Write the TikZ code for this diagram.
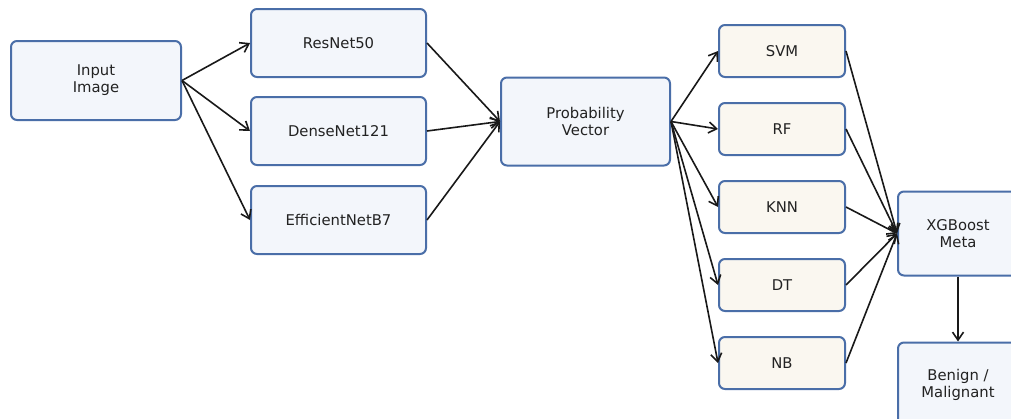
\documentclass[tikz,border=0pt]{standalone}
\usepackage{fontspec}
\setmainfont{DejaVu Sans}
\usetikzlibrary{arrows.meta}
\definecolor{bord}{HTML}{4A6EA8}
\definecolor{bfill}{HTML}{F3F6FB}
\definecolor{cfill}{HTML}{FAF7F0}
\definecolor{txt}{HTML}{222222}
\tikzset{
  box/.style={draw=bord, line width=2pt, rounded corners=6pt, fill=bfill, text=txt,
    font=\fontsize{14.8}{17}\selectfont, align=center, inner sep=0pt},
  clf/.style={box, fill=cfill, minimum width=126pt, minimum height=52pt},
  bb/.style={box, minimum width=175pt, minimum height=68pt},
  arr/.style={-{Straight Barb[length=8pt,width=11pt]}, line width=1.6pt, black!90},
}
\begin{document}
\begin{tikzpicture}[x=1pt,y=-1pt]
\clip (0,0) rectangle (1011,418);
\useasboundingbox (0,0) rectangle (1011,418);
\fill[white] (0,0) rectangle (1011,418);
\node[box, minimum width=170pt, minimum height=79pt] (inp) at (96,80.5) {Input\\Image};
\node[bb] (res) at (338.5,43) {ResNet50};
\node[bb] (den) at (338.5,131) {DenseNet121};
\node[bb] (eff) at (338.5,220) {EfficientNetB7};
\node[box, minimum width=169pt, minimum height=88pt] (prob) at (585.5,121.5) {Probability\\Vector};
\node[clf] (svm) at (782,51) {SVM};
\node[clf] (rf) at (782,129) {RF};
\node[clf] (knn) at (782,207) {KNN};
\node[clf] (dt) at (782,285) {DT};
\node[clf] (nb) at (782,363) {NB};
\node[box, minimum width=120pt, minimum height=84pt] (xgb) at (958,233.5) {XGBoost\\Meta};
\node[box, minimum width=120pt, minimum height=84pt] (out) at (958,384.5) {Benign /\\Malignant};
\foreach \t in {res,den,eff}{
  \draw[arr] (inp.east) -- (\t.west);
  \draw[arr] (\t.east) -- (prob.west);
}
\foreach \t in {svm,rf,knn,dt,nb}{
  \draw[arr] (prob.east) -- (\t.west);
  \draw[arr] (\t.east) -- (xgb.west);
}
\draw[arr] (xgb.south) -- (out.north);
\end{tikzpicture}
\end{document}
